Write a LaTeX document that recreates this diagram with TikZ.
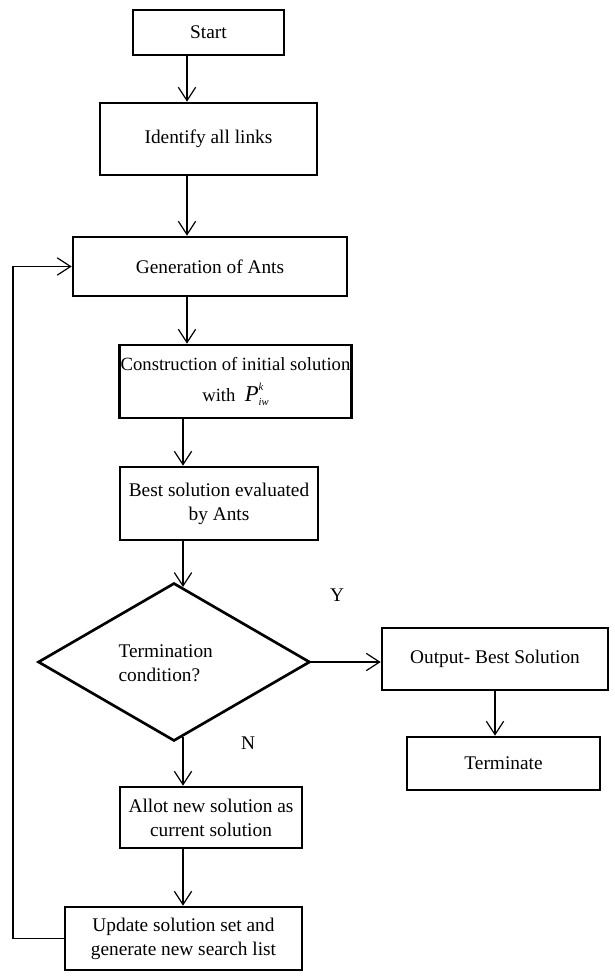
\documentclass[tikz,border=0pt]{standalone}
\usepackage{fontspec}
\setmainfont{Liberation Serif}
\usetikzlibrary{shapes.geometric,arrows.meta}
\tikzstyle{bx}=[rectangle,draw=black,line width=2pt,inner sep=2pt,align=center,font=\fontsize{14.5}{18}\selectfont]
\tikzstyle{dia}=[diamond,draw=black,line width=2pt,inner sep=0pt,aspect=1.72,minimum width=204pt,minimum height=118.5pt]
\tikzstyle{lbl}=[font=\fontsize{14.5}{18}\selectfont,inner sep=1pt]
\tikzstyle{ar}=[-{Straight Barb[length=10pt,width=13pt]},line width=0.9pt]
\newcommand{\smallit}[1]{{\fontsize{8}{8}\selectfont\textit{#1}}}

\begin{document}
\begin{tikzpicture}[x=0.75pt,y=-0.75pt]
\useasboundingbox (0,0) rectangle (614,978);
% columns of the arrows
\coordinate (c1) at (187,0);
\coordinate (c2) at (183,0);
\coordinate (c3) at (495,0);
\coordinate (lp) at (13,0);
% main column
\draw (208.5,32.5) node[bx,minimum width=113.25pt,minimum height=33.75pt] (start) {Start};
\draw (208.5,139) node[bx,minimum width=162.75pt,minimum height=54pt] (ident) {Identify all links};
\draw (210,266.5) node[bx,minimum width=205.5pt,minimum height=44.25pt] (gen) {Generation of Ants};
\draw (235.5,381.5) node[bx,minimum width=170.25pt,minimum height=54.75pt,inner sep=1pt,font=\fontsize{14}{17}\selectfont] (cons) {Construction of initial solution\\[6pt] with \ {\fontsize{17}{17}\selectfont\textit{P}}\rlap{\raisebox{8pt}{\smallit{k}}}\raisebox{-3pt}{\smallit{iw}}};
\draw (219,503.5) node[bx,minimum width=148.5pt,minimum height=54.75pt] (best) {Best solution evaluated\\by Ants};
\draw (174,662) node[dia] (cond) {};
\draw (117,663) node[lbl,anchor=west,align=left] (condtxt) {Termination\\condition?};
\draw (211,817.5) node[bx,minimum width=136.5pt,minimum height=45.75pt] (allot) {Allot new solution as\\current solution};
\draw (183.5,938.5) node[bx,minimum width=177.75pt,minimum height=47.25pt] (upd) {Update solution set and\\generate new search list};
% right column
\draw (495,659) node[bx,minimum width=169.5pt,minimum height=46.5pt] (out) {Output- Best Solution};
\draw (503.5,763.5) node[bx,minimum width=144.75pt,minimum height=39.75pt] (term) {Terminate};
\draw (337,595) node[lbl] (ylab) {Y};
\draw (248,743) node[lbl] (nlab) {N};
% arrows
\draw[ar] (start.south -| c1) -- (ident.north -| c1);
\draw[ar] (ident.south -| c1) -- (gen.north -| c1);
\draw[ar] (gen.south -| c1) -- (cons.north -| c1);
\draw[ar] (cons.south -| c2) -- (best.north -| c2);
\draw[ar] (best.south -| c2) -- ([yshift=-4pt]cond.north -| c2);
\draw[ar] ([yshift=4pt]cond.south -| c2) -- (allot.north -| c2);
\draw[ar] (allot.south -| c2) -- (upd.north -| c2);
\draw[ar] (cond.east) -- (cond.east -| out.west);
\draw[ar] (out.south -| c3) -- (term.north -| c3);
\draw[ar] (upd.west) -- (upd.west -| lp) -- (gen.west -| lp) -- (gen.west);
\end{tikzpicture}
\end{document}
